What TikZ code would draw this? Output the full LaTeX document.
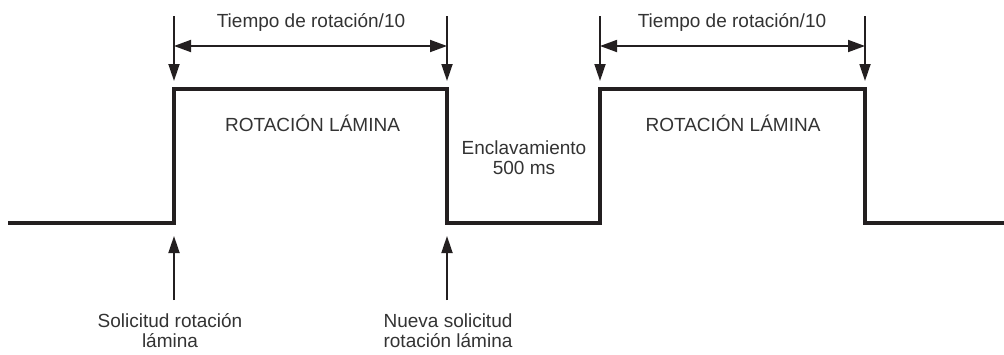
\documentclass[tikz,border=0pt]{standalone}
\usepackage{fontspec}
\setmainfont{Liberation Sans}
\usetikzlibrary{arrows.meta}
\definecolor{ink}{HTML}{231F20}
\definecolor{txt}{HTML}{333333}
\begin{document}
\begin{tikzpicture}[x=1pt,y=-1pt,
  signal/.style={draw=ink,line width=4pt,line join=miter,line cap=butt},
  marker/.style={draw=ink,line width=1.8pt,-{Triangle[length=17pt,width=11pt]}},
  dimline/.style={draw=ink,line width=1.8pt,{Triangle[length=17pt,width=12pt]}-{Triangle[length=17pt,width=12pt]}},
  lbl/.style={text=txt,inner sep=0pt,align=center,font=\fontsize{19}{19.5}\selectfont}]
\useasboundingbox (0,0) rectangle (1004,354);
% signal corners
\coordinate (s0) at (8,223);
\coordinate (r1b) at (174,223);
\coordinate (r1t) at (174,89);
\coordinate (f1t) at (447,89);
\coordinate (f1b) at (447,223);
\coordinate (r2b) at (600,223);
\coordinate (r2t) at (600,89);
\coordinate (f2t) at (865,89);
\coordinate (f2b) at (865,223);
\coordinate (se) at (1004,223);
\draw[signal] (s0) -- (r1b) -- (r1t) -- (f1t) -- (f1b) -- (r2b) -- (r2t) -- (f2t) -- (f2b) -- (se);
% down markers
\coordinate (da1) at (174,16); \coordinate (db1) at (174,81);
\coordinate (da2) at (447,16); \coordinate (db2) at (447,81);
\coordinate (da3) at (600,16); \coordinate (db3) at (600,81);
\coordinate (da4) at (865,16); \coordinate (db4) at (865,81);
\draw[marker] (da1) -- (db1);
\draw[marker] (da2) -- (db2);
\draw[marker] (da3) -- (db3);
\draw[marker] (da4) -- (db4);
% dimension lines
\coordinate (dl1) at (174,46); \coordinate (dr1) at (447,46);
\coordinate (dl2) at (600,46); \coordinate (dr2) at (865,46);
\draw[dimline] (dl1) -- (dr1);
\draw[dimline] (dl2) -- (dr2);
% up markers
\coordinate (ua1) at (174,300); \coordinate (ub1) at (174,236);
\coordinate (ua2) at (447,300); \coordinate (ub2) at (447,236);
\draw[marker] (ua1) -- (ub1);
\draw[marker] (ua2) -- (ub2);
% labels
\node[lbl,anchor=base] (t1) at (311,27.5) {Tiempo de rotación/10};
\node[lbl,anchor=base] (t2) at (732,27.5) {Tiempo de rotación/10};
\node[lbl,anchor=base] (p1) at (312.5,131) {ROTACIÓN LÁMINA};
\node[lbl,anchor=base] (p2) at (733,131) {ROTACIÓN LÁMINA};
\node[lbl,anchor=base] (enc) at (524,174) {Enclavamiento\\500 ms};
\node[lbl,anchor=base] (sol) at (170,347) {Solicitud rotación\\lámina};
\node[lbl,anchor=base] (nue) at (448,347) {Nueva solicitud\\rotación lámina};
\end{tikzpicture}
\end{document}
